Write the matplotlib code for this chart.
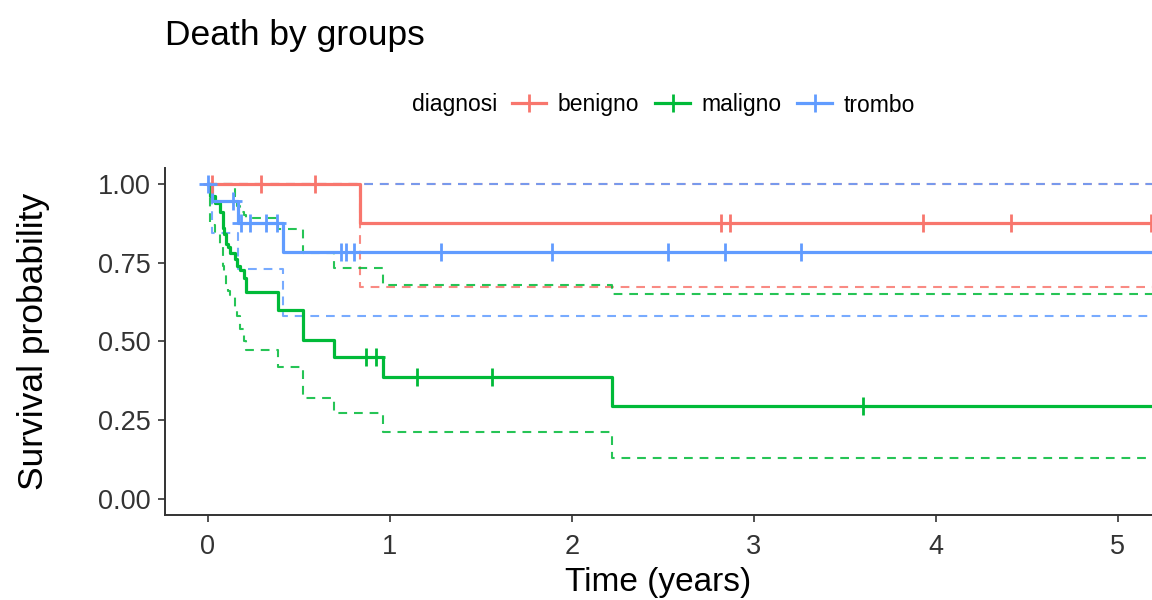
import numpy as np
import matplotlib
matplotlib.use("Agg")
import matplotlib.pyplot as plt
from matplotlib.lines import Line2D

plt.rcParams['font.family'] = ['Liberation Sans', 'DejaVu Sans']

grupos = ['benigno', 'maligno', 'trombo']
cores = ['#F8766D', '#00BA38', '#619CFF']
tempo_max = 5.6

tempo_benigno = [0, 0.835]
surv_benigno = [1.0, 0.875]
inf_benigno = [1.0, 0.674]
sup_benigno = [1.0, 1.0]
cens_benigno = [0.02, 0.29, 0.59, 2.82, 2.87, 3.93, 4.41, 5.18]

tempo_maligno = [0, 0.01, 0.04, 0.066, 0.08, 0.09, 0.10, 0.11, 0.12, 0.15,
                 0.16, 0.175, 0.20, 0.21, 0.385, 0.52, 0.69, 0.96, 2.22]
surv_maligno = [1.0, 0.96, 0.94, 0.91, 0.86, 0.84, 0.81, 0.80, 0.78, 0.76,
                0.74, 0.727, 0.70, 0.658, 0.60, 0.505, 0.452, 0.388, 0.295]
inf_maligno = [1.0, 0.87, 0.84, 0.80, 0.74, 0.71, 0.68, 0.66, 0.648, 0.60,
               0.58, 0.54, 0.50, 0.473, 0.418, 0.32, 0.272, 0.214, 0.13]
sup_maligno = [1.0, 1.0, 1.0, 1.0, 1.0, 1.0, 1.0, 1.0, 1.0, 0.96,
               0.93, 0.91, 0.90, 0.89, 0.855, 0.78, 0.733, 0.68, 0.65]
cens_maligno = [0.87, 0.925, 1.15, 1.56, 3.60]

tempo_trombo = [0, 0.02, 0.167, 0.41]
surv_trombo = [1.0, 0.944, 0.875, 0.785]
inf_trombo = [1.0, 0.845, 0.73, 0.58]
sup_trombo = [1.0, 1.0, 1.0, 1.0]
cens_trombo = [0.0, 0.14, 0.18, 0.23, 0.32, 0.38, 0.73, 0.76, 0.80,
               1.28, 1.89, 2.53, 2.84, 3.26]

dados = [
    (tempo_benigno, surv_benigno, inf_benigno, sup_benigno, cens_benigno),
    (tempo_maligno, surv_maligno, inf_maligno, sup_maligno, cens_maligno),
    (tempo_trombo, surv_trombo, inf_trombo, sup_trombo, cens_trombo),
]


def degrau(t, v):
    t = list(t) + [tempo_max]
    v = list(v) + [v[-1]]
    return t, v


fig = plt.figure(figsize=(11.52, 6), dpi=100)
ax = fig.add_axes([165 / 1152, 85.25 / 600, 1 - 165 / 1152, (515 - 168.25) / 600])

# intervalos de confianca tracejados
for (t, s, lo, hi, c), cor in zip(dados, cores):
    for banda in (lo, hi):
        tt, bb = degrau(t, banda)
        ax.step(tt, bb, where='post', color=cor, lw=1.5, alpha=0.85,
                linestyle=(0, (4.2, 3.3)), zorder=2)

for (t, s, lo, hi, c), cor in zip(dados, cores):
    tt, ss = degrau(t, s)
    ax.step(tt, ss, where='post', color=cor, lw=2.3, zorder=3)
    idx = np.searchsorted(t, c, side='right') - 1
    ax.plot(c, np.array(s)[idx], linestyle='none', marker='+', color=cor,
            markersize=13, markeredgewidth=2.0, zorder=4)

ax.set_xlim(-0.236, 5.187)
ax.set_ylim(-0.05, 1.05)
ax.set_xticks([0, 1, 2, 3, 4, 5])
ax.set_yticks([0, 0.25, 0.5, 0.75, 1.0])
ax.set_yticklabels(['0.00', '0.25', '0.50', '0.75', '1.00'])
ax.spines['top'].set_visible(False)
ax.spines['right'].set_visible(False)
for lado in ('left', 'bottom'):
    ax.spines[lado].set_color('#333333')
    ax.spines[lado].set_linewidth(1.4)
ax.tick_params(axis='both', direction='out', length=5, width=1.2,
               color='#333333', labelsize=19.5, labelcolor='#333333')
ax.tick_params(axis='x', pad=9)
ax.tick_params(axis='y', pad=5)
ax.set_xlabel('Time (years)', fontsize=24, labelpad=5)
ax.set_ylabel('Survival probability', fontsize=25.5, labelpad=35)

fig.text(165 / 1152, 1 - 35 / 600, 'Death by groups', fontsize=25.5,
         va='center', ha='left')

# legenda no topo
fig.text(412 / 1152, 1 - 105 / 600, 'diagnosi', fontsize=16.5,
         va='center', ha='left')
alcas = [Line2D([0], [0], color=cor, lw=2.3, marker='+', markersize=13,
                markeredgewidth=2.0) for cor in cores]
fig.legend(alcas, grupos, loc='center left', ncol=3, frameon=False,
           bbox_to_anchor=(512 / 1152, 1 - 105 / 600), fontsize=16.5,
           borderpad=0, borderaxespad=0, handlelength=1.5,
           handletextpad=0.5, columnspacing=0.7)

fig.savefig('out.png', dpi=100)
